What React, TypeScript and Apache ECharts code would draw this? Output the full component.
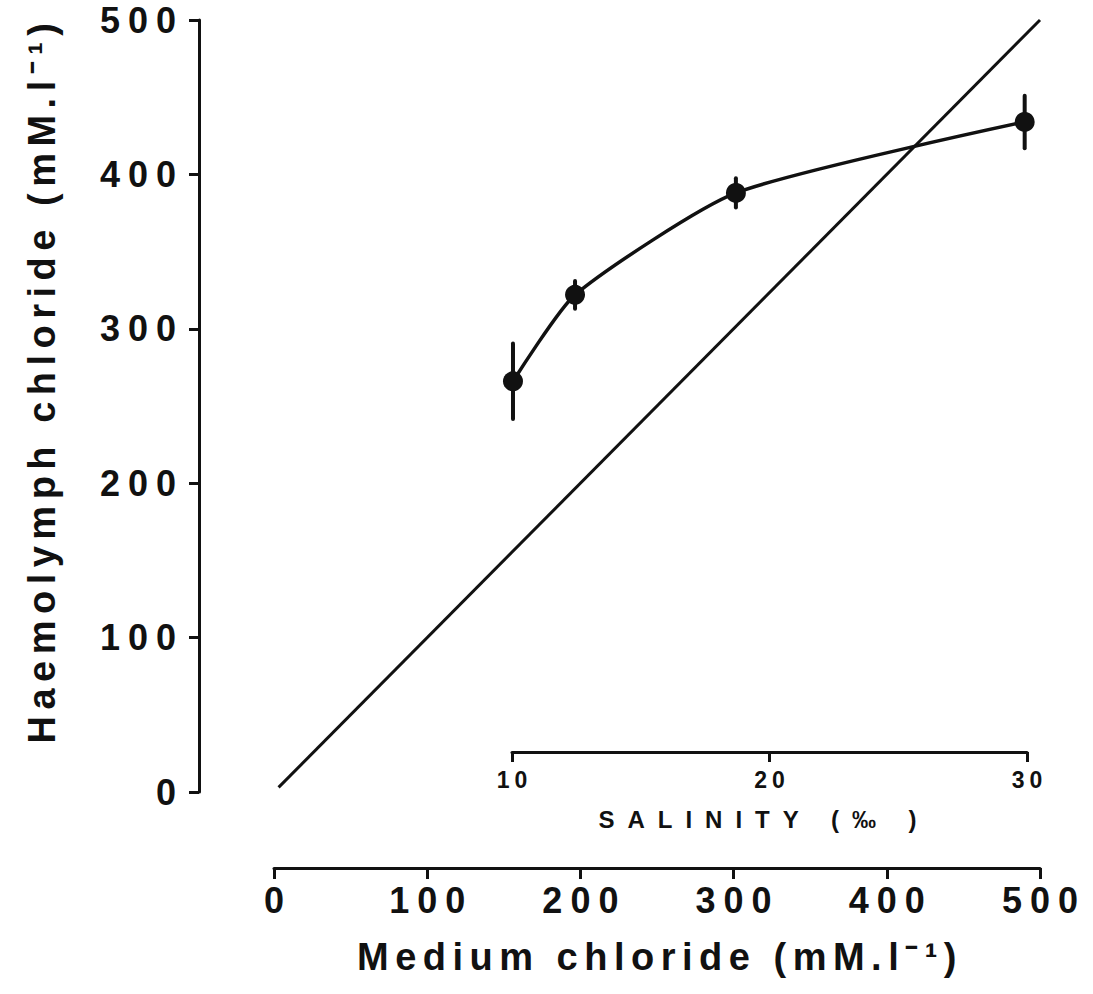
import React, { useEffect, useRef } from 'react';
import * as echarts from 'echarts';

// Medium chloride (mM/l) at which haemolymph was sampled
const mediumChloride = [156, 196.5, 301.5, 490];
// Mean haemolymph chloride (mM/l)
const haemolymphChloride = [266, 322, 388, 434];
// Standard error of each mean
const standardError = [24.5, 9, 9.5, 17];
// Isosmotic reference line (haemolymph = medium)
const isosmoticLine = [
  [3, 3],
  [500, 500],
];

// Axis ranges
const chlorideRange = { min: 0, max: 500, interval: 100 };
const salinityRange = { min: 10, max: 30, interval: 10 };

const xTitle = 'Medium chloride (mM.l⁻¹)';
const yTitle = 'Haemolymph chloride (mM.l⁻¹)';
const salinityTitle = 'SALINITY (‰ )';

const FONT = "'Liberation Sans', Arial, Helvetica, sans-serif";
const INK = '#111111';

// Tracking for the widely spaced lettering, keyed by font size
const css = `
.chloride-chart text[style*="36px"] { letter-spacing: 8px; }
.chloride-chart text[style*="38px"] { letter-spacing: 6.5px; }
.chloride-chart text[style*="23px"] { letter-spacing: 5px; }
.chloride-chart text[style*="24px"] { letter-spacing: 13px; }
`;

const axisLineStyle = {
  show: true,
  onZero: false,
  lineStyle: { color: INK, width: 3 },
};
const axisTickStyle = (length: number) => ({
  show: true,
  length,
  lineStyle: { color: INK, width: 3 },
});

function buildOption(): echarts.EChartsOption {
  const points = mediumChloride.map((x, i) => [x, haemolymphChloride[i]]);
  const bars = mediumChloride.map((x, i) => [
    x,
    haemolymphChloride[i] - standardError[i],
    haemolymphChloride[i] + standardError[i],
  ]);

  return {
    animation: false,
    backgroundColor: '#ffffff',
    grid: [
      { left: 274, top: 20, width: 766, height: 772 },
      { left: 512, top: 700, width: 515, height: 52 },
    ],
    xAxis: [
      {
        gridIndex: 0,
        type: 'value',
        ...chlorideRange,
        offset: 76,
        axisLine: axisLineStyle,
        axisTick: axisTickStyle(11),
        splitLine: { show: false },
        axisLabel: {
          fontSize: 36,
          fontWeight: 'bold',
          fontFamily: FONT,
          color: INK,
          margin: 14,
          padding: [0, 0, 0, 8],
        },
      },
      {
        gridIndex: 1,
        type: 'value',
        ...salinityRange,
        axisLine: axisLineStyle,
        axisTick: axisTickStyle(10),
        splitLine: { show: false },
        axisLabel: {
          fontSize: 23,
          fontWeight: 'bold',
          fontFamily: FONT,
          color: INK,
          margin: 16,
          padding: [0, 0, 0, 5],
        },
      },
    ],
    yAxis: [
      {
        gridIndex: 0,
        type: 'value',
        ...chlorideRange,
        offset: 75,
        axisLine: axisLineStyle,
        axisTick: axisTickStyle(10),
        splitLine: { show: false },
        axisLabel: {
          fontSize: 36,
          fontWeight: 'bold',
          fontFamily: FONT,
          color: INK,
          margin: 15,
        },
      },
      { gridIndex: 1, type: 'value', min: 0, max: 1, show: false },
    ],
    series: [
      {
        name: 'Isosmotic',
        type: 'line',
        xAxisIndex: 0,
        yAxisIndex: 0,
        data: isosmoticLine,
        symbol: 'none',
        silent: true,
        lineStyle: { color: INK, width: 3 },
        z: 1,
      },
      {
        name: 'SE',
        type: 'custom',
        xAxisIndex: 0,
        yAxisIndex: 0,
        data: bars,
        silent: true,
        z: 2,
        renderItem: (_params: any, api: any) => {
          const lo = api.coord([api.value(0), api.value(1)]);
          const hi = api.coord([api.value(0), api.value(2)]);
          return {
            type: 'line',
            shape: { x1: lo[0], y1: lo[1], x2: hi[0], y2: hi[1] },
            style: { stroke: INK, lineWidth: 4, lineCap: 'round' },
          };
        },
      },
      {
        name: 'Haemolymph',
        type: 'line',
        xAxisIndex: 0,
        yAxisIndex: 0,
        data: points,
        smooth: 0.2,
        symbol: 'circle',
        symbolSize: 20,
        silent: true,
        itemStyle: { color: INK },
        lineStyle: { color: INK, width: 3.5 },
        z: 3,
      },
    ],
    graphic: [
      {
        type: 'text',
        x: 42,
        y: 380,
        rotation: Math.PI / 2,
        style: {
          text: yTitle,
          fontSize: 38,
          fontWeight: 'bold',
          fontFamily: FONT,
          fill: INK,
          align: 'center',
          verticalAlign: 'middle',
        },
      },
      {
        type: 'text',
        x: 660,
        y: 957,
        style: {
          text: xTitle,
          fontSize: 38,
          fontWeight: 'bold',
          fontFamily: FONT,
          fill: INK,
          align: 'center',
          verticalAlign: 'middle',
        },
      },
      {
        type: 'text',
        x: 764,
        y: 819,
        style: {
          text: salinityTitle,
          fontSize: 24,
          fontWeight: 'bold',
          fontFamily: FONT,
          fill: INK,
          align: 'center',
          verticalAlign: 'middle',
        },
      },
    ],
  };
}

export default function App() {
  const ref = useRef<HTMLDivElement>(null);

  useEffect(() => {
    if (!ref.current) return;
    const chart = echarts.init(ref.current, null, { renderer: 'svg' });
    chart.setOption(buildOption());
    return () => chart.dispose();
  }, []);

  return (
    <>
      <style>{css}</style>
      <div
        ref={ref}
        className="chloride-chart"
        style={{
          position: 'fixed',
          left: 0,
          top: 0,
          width: 1093,
          height: 994,
          background: '#ffffff',
        }}
      />
    </>
  );
}
